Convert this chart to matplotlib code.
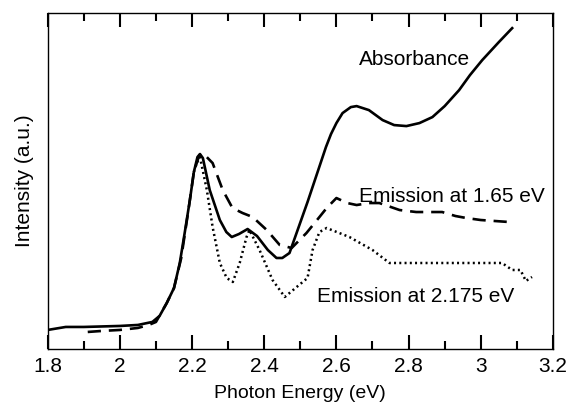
import matplotlib
matplotlib.use("Agg")
import matplotlib.pyplot as plt
from matplotlib.ticker import MultipleLocator

plt.rcParams['font.family'] = ['Liberation Sans', 'DejaVu Sans']
plt.rcParams['xtick.direction'] = 'in'
plt.rcParams['xtick.top'] = True
plt.rcParams['xtick.bottom'] = True
plt.rcParams['xtick.major.size'] = 10
plt.rcParams['xtick.minor.size'] = 6
plt.rcParams['xtick.major.width'] = 1.5
plt.rcParams['xtick.minor.width'] = 1.5
plt.rcParams['xtick.major.pad'] = 6

# Absorbance (solid)
abs_x = [1.80, 1.85, 1.90, 2.00, 2.05, 2.09, 2.11, 2.13, 2.15, 2.166, 2.18, 2.194, 2.205, 2.215,
         2.222, 2.23, 2.249, 2.277, 2.295, 2.31, 2.33, 2.354, 2.38, 2.41, 2.434, 2.45, 2.47, 2.52,
         2.571, 2.585, 2.60, 2.617, 2.64, 2.656, 2.69, 2.728, 2.76, 2.794, 2.83, 2.866, 2.90,
         2.94, 2.97, 3.004, 3.05, 3.087]
abs_y = [19, 22, 22, 23, 24, 27, 33, 46, 61, 86, 117, 149, 177, 192,
         195, 191, 159, 129, 117, 112, 115, 120, 113, 99, 91, 91, 96, 147,
         202, 215, 226, 236, 242, 243, 239, 229, 224, 223, 226, 232, 243,
         259, 274, 289, 307, 321]

# Emission at 1.65 eV (dashed)
em1_x = [1.911, 1.95, 2.0, 2.05, 2.08, 2.1, 2.13, 2.15, 2.17, 2.19, 2.205, 2.22, 2.23, 2.257,
         2.285, 2.312, 2.34, 2.368, 2.407, 2.443, 2.476, 2.517, 2.553, 2.573, 2.60, 2.63,
         2.656, 2.69, 2.719, 2.775, 2.821, 2.893, 2.93, 2.96, 3.00, 3.079]
em1_y = [17, 18, 19, 21, 24, 27, 46, 61, 91, 139, 177, 194, 196, 186,
         159, 141, 136, 132, 119, 104, 101, 116, 132, 141, 151, 146,
         144, 146, 146, 139, 137, 137, 133, 131, 129, 127]

# Emission at 2.175 eV (dotted)
em2_x = [2.205, 2.213, 2.222, 2.241, 2.257, 2.277, 2.296, 2.313, 2.332, 2.351, 2.359, 2.387,
         2.423, 2.457, 2.49, 2.52, 2.534, 2.553, 2.573, 2.636, 2.70, 2.747, 3.059, 3.087,
         3.11, 3.125, 3.142]
em2_y = [177, 186, 192, 159, 122, 86, 71, 67, 86, 112, 119, 99,
         69, 52, 62, 71, 99, 117, 121, 112, 99, 86, 86, 79,
         79, 68, 72]

xtick_vals = [1.8, 2.0, 2.2, 2.4, 2.6, 2.8, 3.0, 3.2]
xtick_labels = ['1.8', '2', '2.2', '2.4', '2.6', '2.8', '3', '3.2']

fig = plt.figure(figsize=(5.69, 4.11), dpi=100)
ax = fig.add_axes([0.0838, 0.151, 0.888, 0.817])

ax.plot(abs_x, abs_y, color='black', lw=1.9, solid_joinstyle='round')
ax.plot(em1_x, em1_y, color='black', lw=1.9, dashes=(5, 3))
ax.plot(em2_x, em2_y, color='black', lw=1.8, linestyle=(0, (0.8, 1.3)))

ax.set_xlim(1.8, 3.2)
ax.set_ylim(0, 336)

ax.set_xticks(xtick_vals)
ax.set_xticklabels(xtick_labels, fontsize=15)
ax.xaxis.set_minor_locator(MultipleLocator(0.1))
ax.set_yticks([])
ax.tick_params(axis='x', which='both', direction='in', top=True, bottom=True)
for s in ax.spines.values():
    s.set_linewidth(1.0)

ax.set_xlabel('Photon Energy (eV)', fontsize=14, labelpad=6)
ax.set_ylabel('Intensity (a.u.)', fontsize=15, labelpad=10)

ax.text(2.816, 290, 'Absorbance', fontsize=15, ha='center', va='center')
ax.text(2.919, 153, 'Emission at 1.65 eV', fontsize=15, ha='center', va='center')
ax.text(2.82, 52, 'Emission at 2.175 eV', fontsize=15, ha='center', va='center')

fig.savefig('out.png', dpi=100)
